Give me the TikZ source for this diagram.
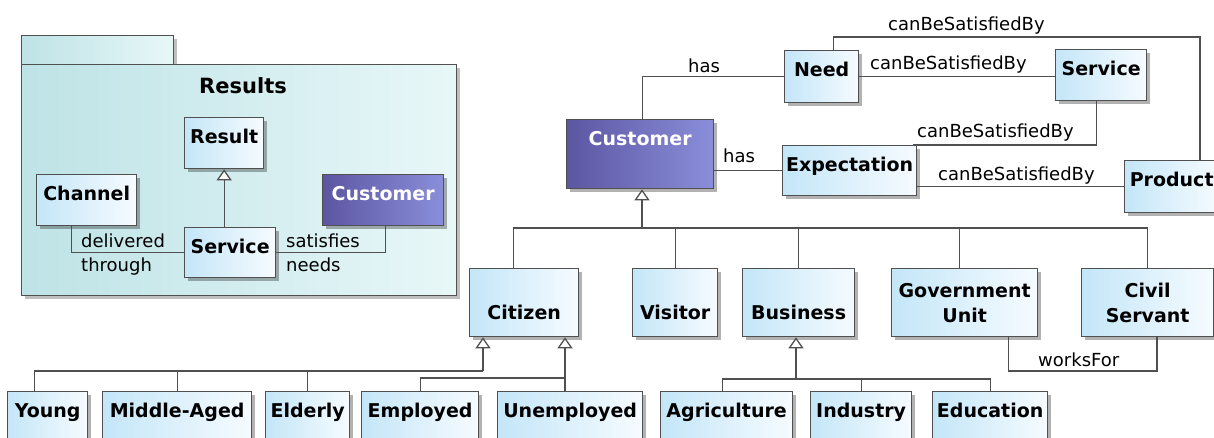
\documentclass[tikz,border=0pt]{standalone}
\usepackage{fontspec}
\setmainfont{DejaVu Sans}
\usepackage{tikz}
\usetikzlibrary{arrows.meta,shadows,positioning}
\usepackage{xcolor}
\definecolor{clsleft}{RGB}{196,230,248}
\definecolor{clsright}{RGB}{246,251,255}
\definecolor{custleft}{RGB}{92,86,162}
\definecolor{custright}{RGB}{138,142,218}
\definecolor{pkgleft}{RGB}{190,227,230}
\definecolor{pkgright}{RGB}{232,247,248}
\definecolor{edgegray}{RGB}{80,80,80}

\begin{document}
\begin{tikzpicture}[
    x=1pt, y=-1pt,
    cls/.style={rectangle, draw=edgegray, line width=1.3pt, left color=clsleft, right color=clsright, anchor=north west, inner xsep=0pt, inner ysep=0pt, align=center, font=\fontsize{19}{25}\selectfont\bfseries, drop shadow={shadow xshift=3pt, shadow yshift=-3pt, opacity=0.3, fill=black}},
    clsp/.style={cls, left color=custleft, right color=custright, text=white},
    pkg/.style={rectangle, draw=edgegray, line width=1.3pt, left color=pkgleft, right color=pkgright, anchor=north west, inner sep=0pt, drop shadow={shadow xshift=3pt, shadow yshift=-3pt, opacity=0.25, fill=black}},
    namepos/.style={text height=26pt, text depth=#1},
    namelow/.style={text height=51pt, text depth=17pt},
    line/.style={draw=edgegray, line width=1.3pt},
    inh/.style={line, -{Triangle[open, width=15pt, length=11pt, fill=white]}},
    assoc/.style={font=\fontsize{18}{22}\selectfont, inner sep=0pt, anchor=base west}
]
\fill[white] (0,0) rectangle (1214,437);
\useasboundingbox (0,0) rectangle (1214,437);

% Results package
\node[pkg, minimum width=152, minimum height=29] (pkgtab) at (21,35) {};
\node[pkg, minimum width=435, minimum height=231] (pkgbody) at (21,64) {};
\node[font=\fontsize{21}{25}\selectfont\bfseries] (pkgtitle) at (243,86) {Results};

\node[cls, namepos=25pt, minimum width=79] (result) at (184,117) {Result};
\node[cls, namepos=25pt, minimum width=100] (channel) at (36,174) {Channel};
\node[clsp, namepos=25pt, minimum width=121] (custin) at (322,174) {Customer};
\node[cls, namepos=24pt, minimum width=91] (servin) at (184,227) {Service};

\draw[inh] (servin.north -| result.south) -- (result.south);
\draw[line] ([xshift=-15pt]channel.south) |- (servin.west);
\draw[line] ([xshift=2pt]custin.south) |- (servin.east);
\node[assoc] (delivered) at (81,247) {delivered};
\node[assoc] (through) at (81,271) {through};
\node[assoc] (satisfies) at (286,247) {satisfies};
\node[assoc] (needs) at (286,271) {needs};

% Customer and its needs
\node[clsp, namepos=43pt, minimum width=147] (cust) at (566,119) {Customer};
\node[cls, namepos=26pt, minimum width=74] (need) at (784,50) {Need};
\node[cls, namepos=25pt, minimum width=91] (servr) at (1055,49) {Service};
\node[cls, namepos=24pt, minimum width=134] (expect) at (782,145) {Expectation};
\node[cls, namepos=26pt, minimum width=94] (product) at (1124,160) {Product};

\coordinate (topbend) at (1200,37);
\draw[line] ([xshift=2pt]cust.north) |- (need.west);
\draw[line] (cust.east |- expect.west) -- (expect.west);
\draw[line] (need.east) -- (need.east -| servr.west);
\draw[line] ([xshift=12pt]need.north) |- (topbend) -- (topbend |- product.north);
\draw[line] ([xshift=-5pt]servr.south) |- ([xshift=-4pt]expect.north east);
\draw[line] (expect.east |- product.west) -- (product.west);

\node[assoc] (has1) at (688,72) {has};
\node[assoc] (has2) at (723,162) {has};
\node[assoc] (satby1) at (888,30) {canBeSatisfiedBy};
\node[assoc] (satby2) at (870,69) {canBeSatisfiedBy};
\node[assoc] (satby3) at (917,137) {canBeSatisfiedBy};
\node[assoc] (satby4) at (938,180) {canBeSatisfiedBy};

% Kinds of customer
\node[cls, namelow, minimum width=109] (citizen) at (469,268) {Citizen};
\node[cls, namelow, minimum width=85] (visitor) at (632,268) {Visitor};
\node[cls, namelow, minimum width=112] (business) at (742,268) {Business};
\node[cls, minimum width=146, minimum height=68] (gov) at (891,268) {Government\\Unit};
\node[cls, minimum width=132, minimum height=68] (civil) at (1081,268) {Civil\\Servant};

\coordinate (custbus) at (642,228);
\draw[inh] (custbus) -- (custbus |- cust.south);
\draw[line] ([xshift=-11pt]citizen.north) |- (custbus);
\draw[line] (visitor.north) |- (custbus);
\draw[line] (business.north) |- (custbus);
\draw[line] ([xshift=-5pt]gov.north) |- (custbus);
\draw[line] (civil.north) |- (custbus);

\coordinate (worksbend) at (1157,371);
\draw[line] ([xshift=44pt]gov.south) |- (worksbend) -- (worksbend |- civil.south);
\node[assoc] (worksfor) at (1038,366) {worksFor};

% Sub kinds
\node[cls, namepos=34pt, minimum width=80] (young) at (7,391) {Young};
\node[cls, namepos=34pt, minimum width=149] (middle) at (102,391) {Middle-Aged};
\node[cls, namepos=34pt, minimum width=84] (elderly) at (265,391) {Elderly};
\node[cls, namepos=34pt, minimum width=117] (employed) at (361,391) {Employed};
\node[cls, namepos=34pt, minimum width=145] (unemp) at (497,391) {Unemployed};
\node[cls, namepos=34pt, minimum width=132] (agri) at (660,391) {Agriculture};
\node[cls, namepos=34pt, minimum width=101] (industry) at (810,391) {Industry};
\node[cls, namepos=34pt, minimum width=115] (educ) at (932,391) {Education};

\coordinate (citl) at (483,371);
\coordinate (citr) at (565,378);
\draw[inh] (citl) -- (citl |- citizen.south);
\draw[line] ([xshift=-13pt]young.north) |- (citl);
\draw[line] (middle.north) |- (citl);
\draw[line] (elderly.north) |- (citl);
\draw[inh] (citr |- unemp.north) -- (citr |- citizen.south);
\draw[line] (employed.north) |- (citr);

\coordinate (busb) at (796,379);
\draw[inh] (busb) -- (busb |- business.south);
\draw[line] ([xshift=-4pt]agri.north) |- (busb);
\draw[line] (industry.north) |- (busb);
\draw[line] (educ.north) |- (busb);

\end{tikzpicture}
\end{document}
